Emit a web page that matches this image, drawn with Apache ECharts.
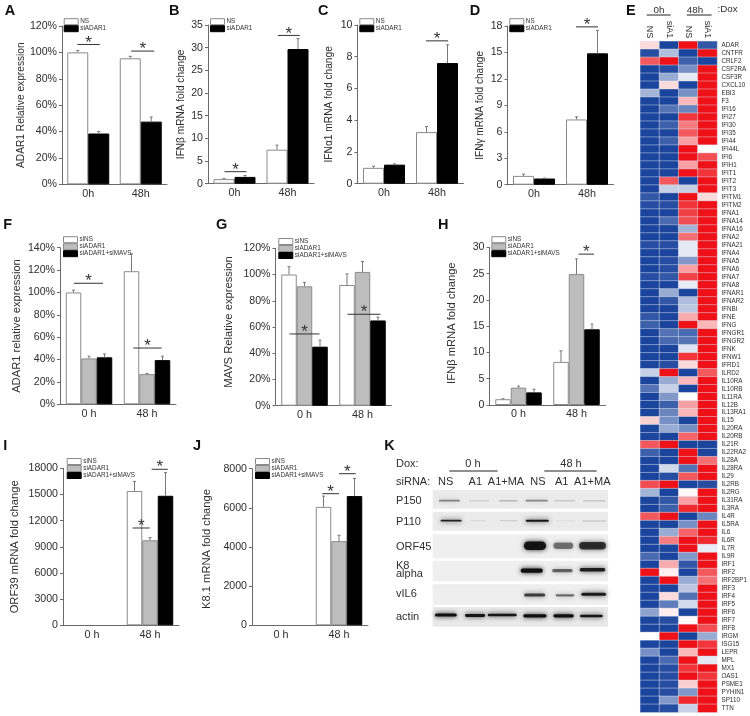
<!DOCTYPE html>
<html><head><meta charset="utf-8">
<style>html,body{margin:0;padding:0;background:#fff}#c{width:750px;height:716px}</style>
<script src="https://cdn.jsdelivr.net/npm/echarts@6/dist/echarts.min.js"></script>
</head><body><div id="c"></div>
<script>
// ---------- Panel A ----------
const aNS=[100,95.5], aSi=[38.5,47.5];
const aNSTop=[101.5,97], aSiTop=[40,51];
// ---------- Panel B ----------
const bNS=[1,7.5], bSi=[1.5,29.7];
const bNSTop=[1.1,8.5], bSiTop=[1.8,32];
// ---------- Panel C ----------
const cNS=[1,3.25], cSi=[1.2,7.6];
const cNSTop=[1.1,3.6], cSiTop=[1.25,8.75];
// ---------- Panel D ----------
const dNS=[1,7.4], dSi=[0.7,14.9];
const dNSTop=[1.2,7.7], dSiTop=[0.75,17.5];
// ---------- Panel F ----------
const fNS=[100,119], fSi=[41,27], fMa=[42,39.5];
const fNSTop=[102,134.5], fSiTop=[43,27.7], fMaTop=[45,43];
// ---------- Panel G ----------
const gNS=[100,92], gSi=[91,102], gMa=[45,65];
const gNSTop=[106,100.5], gSiTop=[94,110], gMaTop=[50,67.5];
// ---------- Panel H ----------
const hNS=[1.1,8.2], hSi=[3.3,24.9], hMa=[2.4,14.4];
const hNSTop=[1.2,10.3], hSiTop=[3.6,27.8], hMaTop=[3,15.4];
// ---------- Panel I ----------
const iNS=[0,15400], iSi=[0,9750], iMa=[0,14850];
const iNSTop=[0,16500], iSiTop=[0,10050], iMaTop=[0,17500];
// ---------- Panel J ----------
const jNS=[0,6050], jSi=[0,4300], jMa=[0,6600];
const jNSTop=[0,6600], jSiTop=[0,4600], jMaTop=[0,7500];

const catsAD=['0h','48h'], catsFJ=['0 h','48 h'];
const legend2=['NS','siADAR1'], legend3=['siNS','siADAR1','siADAR1+siMAVS'];

// significance bars: [category, left offset, right offset, value]
const aSig=[[0,-10.8,11.5,106],[1,-9.5,13.5,101]];
const bSig=[[0,-10,12,2.65],[1,-9.7,12.3,32.7]];
const cSig=[[1,-11,11,9]];
const dSig=[[1,-11,11,17.9]];
const fSig=[[0,-15,14,108.2],[1,-13.7,14.7,50.3]];
const gSig=[[0,-15,15,54.7],[1,-15,18,69.7]];
const hSig=[[1,2,17.5,28.7]];
const iSig=[[1,-17.3,-0.3,11155],[1,1.7,17.7,17886]];
const jSig=[[1,-16.7,0,6723],[1,0,16.7,7745]];

// ---------- Panel E ----------
const heatCols=['NS','siA1','NS','siA1'];
const heatGenes=['ADAR','CNTFR','CRLF2','CSF2RA','CSF3R','CXCL10','EBI3','F3','IFI16','IFI27','IFI30','IFI35','IFI44','IFI44L','IFI6','IFIH1','IFIT1','IFIT2','IFIT3','IFITM1','IFITM2','IFNA1','IFNA14','IFNA16','IFNA2','IFNA21','IFNA4','IFNA5','IFNA6','IFNA7','IFNA8','IFNAR1','IFNAR2','IFNBI','IFNE','IFNG','IFNGR1','IFNGR2','IFNK','IFNW1','IFRD1','ILRD2','IL10RA','IL10RB','IL11RA','IL12B','IL13RA1','IL15','IL20RA','IL20RB','IL21R','IL22RA2','IL28A','IL28RA','IL29','IL2RB','IL2RG','IL31RA','IL3RA','IL4R','IL5RA','IL6','IL6R','IL7R','IL9R','IRF1','IRF2','IRF2BP1','IRF3','IRF4','IRF5','IRF6','IRF7','IRF8','IRGM','ISG15','LEPR','MPL','MX1','OAS1','PSME1','PYHIN1','SP110','TTN'];
const heatValues=[
[0.15,-1,1,-0.9],[-0.95,-0.35,-1,1],[0.7,1,-0.85,-1],[-1,-0.95,-0.6,1],[-1,-0.45,-0.12,1],[-1,0.15,-1,1],[-0.4,-1,-0.6,1],[-1,-1,0.3,1],[-1,-0.75,-0.65,1],[-1,-1,0.85,1],
[-1,-0.85,0.55,1],[-1,-1,0.7,1],[-1,-0.85,0.4,1],[-1,-1,1,0],[-1,-1,1,0.75],[-1,-1,0.4,1],[-1,-1,1,0.85],[-1,0.7,-1,1],[-1,-0.25,-0.25,1],[-0.9,-1,1,0.15],
[-0.95,-0.95,0.85,1],[-1,-1,0.8,1],[-1,-0.8,0.75,1],[-1,-1,-0.4,1],[-1,-1,0.6,1],[-0.95,-0.95,-0.12,1],[-1,-1,-0.12,1],[-1,-0.95,-0.55,1],[-1,-0.95,0.4,1],[-0.95,-0.9,0.8,1],
[-1,-1,-0.1,1],[-1,-0.45,-1,1],[-1,-0.9,-0.35,1],[-1,-1,-0.3,1],[-0.9,-1,0.35,1],[-0.85,-1,1,0.3],[-1,-0.75,-0.8,1],[-1,-0.8,-0.75,1],[-1,-1,-0.15,1],[-1,-1,0.85,1],
[-1,-0.95,0.15,1],[-0.25,1,-1,0.7],[-1,-0.45,0.3,1],[-0.75,-0.25,-1,1],[-1,-0.55,0,1],[-1,-0.85,0.4,1],[-1,-0.65,0.3,1],[0.2,-0.6,-1,1],[-1,-0.45,-0.6,1],[-1,-1,0.65,1],
[0.7,1,-1,-1],[-0.85,-1,1,-1],[-1,-1,1,0.6],[-1,-0.2,-0.75,1],[-1,-0.95,0.7,1],[0.75,1,-1,-0.95],[-0.4,-1,0.03,1],[-1,-0.9,0.4,1],[-1,-0.85,0.9,1],[0.7,1,-1,-0.65],
[-1,-1,-0.6,1],[-1,-0.45,0.65,1],[-1,0.55,1,0.9],[-1,-1,1,-0.1],[-0.8,-1,-0.55,1],[-1,0.35,-0.9,1],[1,0.07,-1,0.7],[-1,1,-0.45,0.6],[-1,-1,-0.3,1],[-1,0.15,-0.75,1],
[-1,-0.7,-0.2,1],[-0.5,0.07,-1,1],[-1,-0.95,0.03,1],[-1,-1,1,0.75],[0,1,-1,-0.45],[-1,-1,1,0.85],[-0.6,-1,0.3,1],[-1,-0.8,1,-0.12],[-1,-0.95,0.85,1],[-1,-0.95,1,0.85],
[-1,-0.95,0.2,1],[-1,-0.95,-0.55,1],[-1,-0.55,0.9,1],[-1,-0.95,-0.25,1]
];

// ---------- Panel K: rows [label, start, height, shade], bands [lane, row centre, lane width, thickness, darkness] ----------
const blotRows=[['P150',0,18.7,'#ebebeb'],['P110',21.7,19,'#ebebeb'],['ORF45',44.3,24,'#efefef'],['K8\nalpha',70.7,20.6,'#efefef'],['vIL6',94.3,20.4,'#eeeeee'],['actin',117,19.7,'#e9e9e9']];
const blotBands=[
[0.07,10.7,0.72,1.8,0.45],[1.09,10.7,0.7,1.4,0.12],[2.09,10.7,0.64,1.5,0.22],[3.06,10.7,0.76,1.8,0.42],[4.01,10.7,0.72,1.4,0.15],[5.02,10.9,0.76,1.4,0.2],
[0.13,30.7,0.72,1.8,0.9],[1.04,30.7,0.56,1.2,0.07],[2.1,30.7,0.62,1.3,0.12],[3.08,30.7,0.79,1.9,0.95],[4.03,30.7,0.64,1.2,0.05],[5.03,31,0.81,1.3,0.14],
[3,55.7,0.76,8.5,0.95],[3.97,55.7,0.68,6.5,0.5],[4.97,55.7,0.92,7.5,0.78],
[2.89,80.7,0.76,4.2,1],[3.94,80.7,0.7,3.2,0.58],[4.97,79.8,0.88,3.6,0.9],
[2.99,105,0.72,3,0.75],[4.03,105.3,0.64,2.3,0.55],[5.01,104.2,0.85,3,0.92],
[-0.05,125,0.75,3.2,1],[0.95,125.5,0.69,2.8,0.95],[1.88,125,0.99,2.6,0.95],[3,125.8,0.8,3.2,1],[3.98,125.8,0.7,3.2,1],[4.93,126,0.78,2.6,0.95]
];
const blotHeaders=[['NS',445.7],['A1',475.3],['A1+MA',506],['NS',538],['A1',561.7],['A1+MA',592.3]];

const FONT='"Liberation Sans",Arial,sans-serif';
const TXT='#2e2e2e';
const AX='#6a6a6a';
const fills2=[{color:'#fff',borderColor:'#8a8a8a',borderWidth:1},{color:'#000',borderColor:'#000',borderWidth:1}];
const fills3=[fills2[0],{color:'#bdbdbd',borderColor:'#8a8a8a',borderWidth:1},fills2[1]];

const panels=[
 {rect:[62,26,105,158.3],max:120,step:20,pct:1,title:'ADAR1 Relative expression',gap:36,ts:10.2,cats:catsAD,names:legend2,vals:[aNS,aSi],tops:[aNSTop,aSiTop],sig:aSig,bw:21,leg:[63.7,18.2]},
 {rect:[208,25,106,158.7],max:35,step:5,title:'IFNβ mRNA fold change',gap:22,ts:10.1,cats:catsAD,names:legend2,vals:[bNS,bSi],tops:[bNSTop,bSiTop],sig:bSig,bw:21,leg:[210,18.2]},
 {rect:[357.5,25,106,158.7],max:10,step:2,title:'IFNα1 mRNA fold change',gap:23,ts:10.2,cats:catsAD,names:legend2,vals:[cNS,cSi],tops:[cNSTop,cSiTop],sig:cSig,bw:21,leg:[359.3,18.2]},
 {rect:[507.5,26,106,158.7],max:18,step:3,title:'IFNγ mRNA fold change',gap:22,ts:10.1,cats:catsAD,names:legend2,vals:[dNS,dSi],tops:[dNSTop,dSiTop],sig:dSig,bw:21,leg:[509.3,18.2]},
 {rect:[60,247.7,116,156.6],max:140,step:20,pct:1,title:'ADAR1 relative expression',gap:38,ts:11.2,cats:catsFJ,names:legend3,vals:[fNS,fSi,fMa],tops:[fNSTop,fSiTop,fMaTop],sig:fSig,bw:15.5,leg:[63,236.2]},
 {rect:[275.5,248.3,116,157.4],max:120,step:20,pct:1,title:'MAVS Relative expression',gap:41,ts:11.2,shift:10,cats:catsFJ,names:legend3,vals:[gNS,gSi,gMa],tops:[gNSTop,gSiTop,gMaTop],sig:gSig,bw:15.5,leg:[278.3,238]},
 {rect:[489.5,247.3,116,157.7],max:30,step:5,title:'IFNβ mRNA fold change',gap:32,ts:11.2,shift:6,cats:catsFJ,names:legend3,vals:[hNS,hSi,hMa],tops:[hNSTop,hSiTop,hMaTop],sig:hSig,bw:15.5,leg:[491.3,236.2]},
 {rect:[63,468.3,116,157],max:18000,step:3000,title:'ORF39 mRNA fold change',gap:43,ts:11.2,cats:catsFJ,names:legend3,vals:[iNS,iSi,iMa],tops:[iNSTop,iSiTop,iMaTop],sig:iSig,bw:15.5,leg:[66.7,458]},
 {rect:[252,468.7,116,156.6],max:8000,step:2000,title:'K8.1 mRNA fold change',gap:40,ts:11.2,shift:-4,cats:catsFJ,names:legend3,vals:[jNS,jSi,jMa],tops:[jNSTop,jSiTop,jMaTop],sig:jSig,bw:15.5,leg:[255,458]}
];

const grid=[],xAxis=[],yAxis=[],series=[],legend=[];
panels.forEach((p,g)=>{
  grid.push({left:p.rect[0],top:p.rect[1],width:p.rect[2],height:p.rect[3],containLabel:false});
  xAxis.push({gridIndex:g,type:'category',data:p.cats,axisTick:{show:false},
    axisLine:{lineStyle:{color:AX,width:1}},
    axisLabel:{fontFamily:FONT,fontSize:10.8,color:TXT,margin:4,interval:0}});
  const sh=p.shift||0;
  yAxis.push({gridIndex:g,type:'value',min:0,max:p.max,interval:p.step,splitLine:{show:false},
    axisLine:{show:true,lineStyle:{color:AX,width:1}},
    axisTick:{show:true,length:3,lineStyle:{color:AX,width:1}},
    axisLabel:{fontFamily:FONT,fontSize:10.6,color:TXT,margin:5,formatter:v=>p.pct?v+'%':String(v)},
    name:p.title,nameLocation:'middle',nameGap:p.gap,
    nameTextStyle:{fontFamily:FONT,fontSize:p.ts,color:TXT,padding:[0,sh<0?-sh:0,0,sh>0?sh:0]}});
  const fills=p.vals.length===2?fills2:fills3;
  p.vals.forEach((v,i)=>series.push({type:'bar',xAxisIndex:g,yAxisIndex:g,name:p.names[i],data:v.map(x=>x>0?x:null),
    barWidth:p.bw,barGap:0,itemStyle:fills[i],z:2,animation:false,silent:true}));
  // error whiskers, upper side only
  const n=p.vals.length,errs=[];
  p.vals.forEach((v,i)=>v.forEach((val,c)=>{if(val>0)errs.push([c,i,val,p.tops[i][c]]);}));
  series.push({type:'custom',xAxisIndex:g,yAxisIndex:g,data:errs,z:3,animation:false,silent:true,clip:false,
    encode:{x:0,y:3},
    renderItem:(ps,api)=>{
      const b=api.coord([api.value(0),api.value(2)]),t=api.coord([api.value(0),api.value(3)]);
      const x=b[0]+(api.value(1)-(n-1)/2)*p.bw;
      const st={stroke:'#777',lineWidth:1};
      return {type:'group',children:[
        {type:'line',shape:{x1:x,y1:b[1],x2:x,y2:t[1]},style:st},
        {type:'line',shape:{x1:x-1.5,y1:t[1],x2:x+1.5,y2:t[1]},style:st}]};
    }});
  // significance bars and stars
  series.push({type:'custom',xAxisIndex:g,yAxisIndex:g,data:p.sig,z:4,animation:false,silent:true,clip:false,
    encode:{x:0,y:3},
    renderItem:(ps,api)=>{
      const c=api.coord([api.value(0),api.value(3)]);
      const x1=c[0]+api.value(1),x2=c[0]+api.value(2);
      return {type:'group',children:[
        {type:'line',shape:{x1:x1,y1:c[1],x2:x2,y2:c[1]},style:{stroke:'#333',lineWidth:1}},
        {type:'text',style:{text:'*',x:(x1+x2)/2,y:c[1]-1.5,fontFamily:FONT,fontSize:17,fill:'#333',align:'center',verticalAlign:'middle'}}]};
    }});
  legend.push({show:true,left:p.leg[0],top:p.leg[1],orient:'vertical',align:'left',padding:0,itemGap:0,itemWidth:14,itemHeight:6,
    selectedMode:false,data:p.names.map((nm,i)=>({name:nm,icon:'rect',itemStyle:fills[i]})),
    textStyle:{fontFamily:FONT,fontSize:6.4,color:'#333',padding:[0,0,0,-3]}});
});

// heat map (panel E)
const hg=grid.length;
grid.push({left:640.3,top:41.3,width:77,height:671,containLabel:false});
xAxis.push({gridIndex:hg,type:'category',position:'top',data:heatCols,axisLine:{show:false},axisTick:{show:false},
  axisLabel:{rotate:90,interval:0,margin:3,fontFamily:FONT,fontSize:9,color:TXT}});
yAxis.push({gridIndex:hg,type:'category',position:'right',inverse:true,data:heatGenes,axisLine:{show:false},axisTick:{show:false},
  axisLabel:{interval:0,margin:4.4,fontFamily:FONT,fontSize:6.3,color:TXT}});
const heatData=[];
heatValues.forEach((r,y)=>r.forEach((v,x)=>heatData.push([x,y,v])));
const heatIdx=series.length;
series.push({type:'heatmap',xAxisIndex:hg,yAxisIndex:hg,data:heatData,animation:false,silent:true,progressive:0,
  itemStyle:{borderColor:'rgba(230,235,245,0.85)',borderWidth:0.5}});

// western blot (panel K)
const kg=grid.length;
grid.push({left:432.7,top:490,width:175.3,height:136.7,containLabel:false});
xAxis.push({gridIndex:kg,type:'value',min:-0.5,max:5.5,show:false});
yAxis.push({gridIndex:kg,type:'value',min:0,max:136.7,inverse:true,show:false});
series.push({type:'custom',xAxisIndex:kg,yAxisIndex:kg,data:blotRows.map(r=>[-0.5,r[1],r[2],r[3]]),z:1,animation:false,silent:true,
  encode:{x:0,y:1},
  renderItem:(ps,api)=>{
    const a=api.coord([-0.5,api.value(1)]),b=api.coord([5.5,api.value(1)+api.value(2)]);
    return {type:'rect',shape:{x:a[0],y:a[1],width:b[0]-a[0],height:b[1]-a[1]},style:{fill:blotRows[ps.dataIndex][3]}};
  }});
series.push({type:'custom',xAxisIndex:kg,yAxisIndex:kg,data:blotBands,z:2,animation:false,silent:true,clip:false,
  encode:{x:0,y:1},
  renderItem:(ps,api)=>{
    const c=api.coord([api.value(0),api.value(1)]);
    const s=api.size([api.value(2),api.value(3)]);
    const d=api.value(4),col='rgba(15,15,15,'+d+')';
    return {type:'rect',shape:{x:c[0]-s[0]/2,y:c[1]-s[1]/2,width:s[0],height:s[1],r:s[1]/2},
      style:{fill:col,shadowBlur:5,shadowColor:col}};
  }});

// text annotations
const gfx=[];
const letter=(t,x,y)=>gfx.push({type:'text',left:x,top:y-7,z:20,style:{text:t,fontFamily:FONT,fontSize:14.5,fontWeight:'bold',fill:'#111'}});
[['A',4.7,10],['B',169,10],['C',318,10],['D',469.7,10],['E',626,10],['F',3.3,224.3],['G',216,224.3],['H',438,224],['I',3.3,445],['J',193,445],['K',384.3,445]].forEach(a=>letter(...a));
const label=(t,x,y,fs,anchor)=>gfx.push({type:'text',z:20,x:x,y:y,style:{text:t,fontFamily:FONT,fontSize:fs,fill:TXT,align:anchor||'left',verticalAlign:'middle',lineHeight:fs*0.78}});
const rule=(x1,x2,y,w)=>gfx.push({type:'line',z:20,shape:{x1:x1,y1:y,x2:x2,y2:y},style:{stroke:'#222',lineWidth:w||1}});
// E header
label('0h',659,10,9.8,'center'); rule(646.7,670.7,15);
label('48h',695,10,9.8,'center'); rule(686.7,711.7,15);
label(':Dox',717.5,9.5,9.8);
// K header
label('Dox:',396,464.3,11); label('0 h',473,464,11,'center'); rule(449.3,497.7,471,1.2);
label('48 h',571,464,11,'center'); rule(544.3,596.7,471,1.2);
label('siRNA:',396,481.7,11);
blotHeaders.forEach(h=>label(h[0],h[1],481.7,11,'center'));
const blotLabelY=[500.7,522,546.7,570,594,617.3];
blotRows.forEach((r,i)=>label(r[0],396,blotLabelY[i],11));

const chart=echarts.init(document.getElementById('c'),null,{renderer:'canvas'});
chart.setOption({animation:false,backgroundColor:'#fff',tooltip:{show:false},
  textStyle:{fontFamily:FONT},
  grid,xAxis,yAxis,legend,series,graphic:{elements:gfx},
  visualMap:{show:false,seriesIndex:heatIdx,min:-1,max:1,calculable:false,
    inRange:{color:['#1b449c','#ffffff','#ee1118']}}
});
</script></body></html>
